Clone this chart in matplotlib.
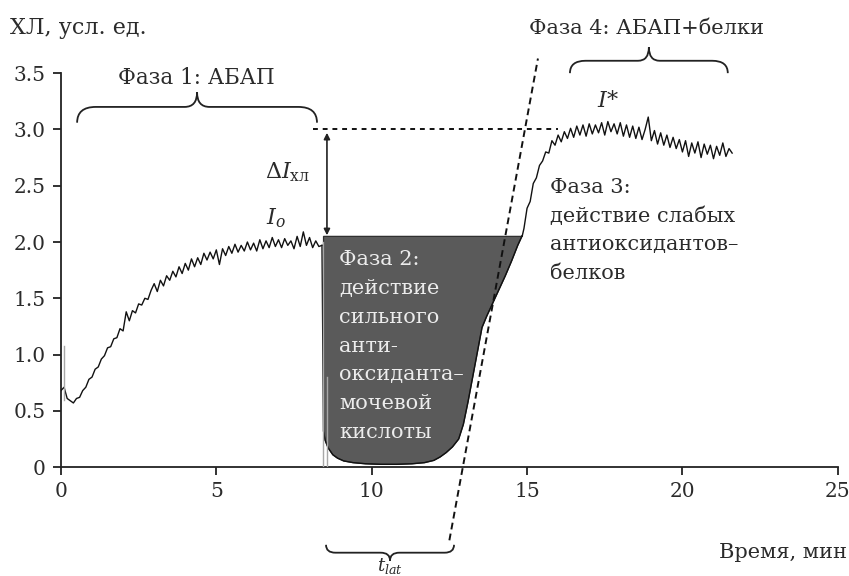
import numpy as np
import matplotlib
matplotlib.use('Agg')
import matplotlib.pyplot as plt
from matplotlib.path import Path
from matplotlib.patches import PathPatch

plt.rcParams['font.family'] = ['DejaVu Serif']
plt.rcParams['mathtext.fontset'] = 'dejavuserif'

# --- данные ---
# фаза 1 (0 ... 8.4 мин, шаг 0.1)
t_phase1 = np.round(np.arange(0, 8.45, 0.1), 2)
y_phase1 = [0.68, 0.71, 0.61, 0.59, 0.57, 0.61, 0.62, 0.68, 0.71, 0.78,
            0.80, 0.87, 0.89, 0.96, 0.99, 1.06, 1.07, 1.14, 1.15, 1.23,
            1.21, 1.38, 1.30, 1.39, 1.37, 1.45, 1.44, 1.50, 1.49, 1.57,
            1.63, 1.56, 1.66, 1.61, 1.70, 1.66, 1.74, 1.69, 1.78, 1.72,
            1.81, 1.75, 1.85, 1.78, 1.86, 1.80, 1.90, 1.84, 1.91, 1.85,
            1.93, 1.80, 1.94, 1.88, 1.96, 1.90, 1.98, 1.91, 1.97, 1.92,
            2.00, 1.93, 1.99, 1.92, 2.02, 1.94, 2.01, 1.95, 2.04, 1.96,
            2.02, 1.95, 2.03, 1.97, 2.01, 1.94, 2.05, 1.96, 2.09, 1.97,
            2.04, 1.95, 2.01, 1.96, 1.97]

# фаза 2 - гашение мочевой кислотой, затем рост (фаза 3)
t_phase2 = [8.45, 8.5, 8.6, 8.75, 8.9, 9.1, 9.4, 9.8, 10.3, 10.8, 11.3,
            11.7, 12.0, 12.2, 12.4, 12.6, 12.8, 12.95, 13.1, 13.25, 13.4,
            13.55, 13.7, 13.9, 14.1, 14.3, 14.5, 14.7, 14.85]
y_phase2 = [0.32, 0.24, 0.17, 0.11, 0.08, 0.055, 0.04, 0.03, 0.025, 0.025,
            0.03, 0.04, 0.06, 0.09, 0.13, 0.18, 0.25, 0.38, 0.58, 0.80,
            1.02, 1.24, 1.34, 1.46, 1.58, 1.70, 1.83, 1.97, 2.06]

# фаза 3-4 (14.9 ... 21.6 мин, шаг 0.1)
t_phase4 = np.round(np.arange(14.9, 21.65, 0.1), 2)
y_phase4 = [2.12, 2.30, 2.36, 2.52, 2.57, 2.68, 2.72, 2.80, 2.79, 2.90,
            2.86, 2.95, 2.89, 2.98, 2.92, 3.01, 2.93, 3.03, 2.95, 3.04,
            2.94, 3.05, 2.96, 3.04, 2.97, 3.06, 2.95, 3.07, 2.98, 3.05,
            2.96, 3.06, 2.94, 3.04, 2.93, 3.03, 2.92, 3.02, 2.91, 3.00,
            3.11, 2.90, 2.99, 2.87, 2.97, 2.86, 2.95, 2.84, 2.93, 2.83,
            2.91, 2.80, 2.90, 2.76, 2.88, 2.79, 2.89, 2.75, 2.87, 2.78,
            2.86, 2.74, 2.85, 2.77, 2.88, 2.76, 2.83, 2.79]

# выбросы (серые линии)
spikes = [(0.1, 0.6, 1.08), (8.42, 0.0, 2.0), (8.56, 0.0, 0.8)]

i0_level = 2.05      # I0
istar_level = 3.0    # I*
tangent_x = [12.5, 15.35]
tangent_y = [-0.65, 3.63]

x_ticks = [0, 5, 10, 15, 20, 25]
y_ticks = [0, 0.5, 1.0, 1.5, 2.0, 2.5, 3.0, 3.5]
y_ticklabels = ['0', '0.5', '1.0', '1.5', '2.0', '2.5', '3.0', '3.5']

TXT = '#2b2b2b'


def brace(ax, x0, x1, y_end, y_flat, y_tip, r_end, r_tip):
    xm = (x0 + x1) / 2
    verts = [(x0, y_end), (x0, y_flat), (x0 + r_end, y_flat),
             (xm - r_tip, y_flat), (xm, y_flat), (xm, y_tip),
             (xm, y_flat), (xm + r_tip, y_flat),
             (x1 - r_end, y_flat), (x1, y_flat), (x1, y_end)]
    codes = [Path.MOVETO, Path.CURVE3, Path.CURVE3,
             Path.LINETO, Path.CURVE3, Path.CURVE3,
             Path.CURVE3, Path.CURVE3,
             Path.LINETO, Path.CURVE3, Path.CURVE3]
    ax.add_patch(PathPatch(Path(verts, codes), fc='none', ec='#222222',
                           lw=1.3, clip_on=False))


fig = plt.figure(figsize=(8.49, 5.76), dpi=100)
ax = fig.add_axes([0.0718, 0.189, 0.915, 0.684])

# заливка фазы 2
fill_x = [t_phase2[0]] + t_phase2 + [t_phase2[-1]]
fill_y = [i0_level] + y_phase2 + [i0_level]
ax.fill(fill_x, fill_y, fc='#5a5a5a', ec='#303030', lw=0.9, zorder=2)

# кривая
ax.plot(t_phase1, y_phase1, color='#111111', lw=1.0, zorder=3)
ax.plot([t_phase1[-1]] + t_phase2 + list(t_phase4),
        [y_phase1[-1]] + y_phase2 + y_phase4, color='#111111', lw=1.0, zorder=3)
for sx, s0, s1 in spikes:
    ax.plot([sx, sx], [s0, s1], color='#a8a8a8', lw=1.0, zorder=4)

# касательная и уровень I*
ax.plot(tangent_x, tangent_y, color='#111111', lw=1.4, ls=(0, (3.5, 2.2)),
        clip_on=False, zorder=5)
ax.plot([8.1, 16.0], [istar_level, istar_level], color='#111111', lw=1.4,
        ls=(0, (2.5, 2.5)), zorder=5)

ax.annotate('', xy=(8.56, i0_level + 0.01), xytext=(8.56, istar_level - 0.03),
            arrowprops=dict(arrowstyle='<|-|>', color='#222222', lw=1.2,
                            mutation_scale=9, shrinkA=0, shrinkB=0))

# фигурные скобки
brace(ax, 0.52, 8.24, 3.06, 3.2, 3.33, 0.6, 0.4)
brace(ax, 16.38, 21.46, 3.5, 3.61, 3.73, 0.5, 0.35)
brace(ax, 8.53, 12.65, -0.69, -0.76, -0.83, 0.3, 0.3)

# подписи
fs = 15
ax.text(4.35, 3.46, 'Фаза 1: АБАП', ha='center', va='center', fontsize=15.5,
        color=TXT)
ax.text(18.85, 3.9, 'Фаза 4: АБАП+белки', ha='center', va='center',
        fontsize=fs, color=TXT, clip_on=False)
ax.text(17.6, 3.25, r'$I$*', ha='center', va='center', fontsize=fs + 1,
        color=TXT)
ax.text(7.3, 2.62, r'$\Delta I_{\mathrm{хл}}$', ha='center', va='center',
        fontsize=fs + 1, color=TXT)
ax.text(6.92, 2.21, r'$I_o$', ha='center', va='center', fontsize=fs + 1,
        color=TXT)
ax.text(10.59, -0.88, r'$t_{lat}$', ha='center', va='center', fontsize=13,
        color=TXT, clip_on=False)
ax.text(8.94, 1.93, 'Фаза 2:\nдействие\nсильного\nанти-\nоксиданта–\nмочевой\nкислоты',
        ha='left', va='top', fontsize=fs, color='#ececec', linespacing=1.66,
        zorder=6)
ax.text(15.73, 2.57, 'Фаза 3:\nдействие слабых\nантиоксидантов–\nбелков',
        ha='left', va='top', fontsize=fs, color=TXT, linespacing=1.62)

fig.text(0.012, 1 - 28 / 576, 'ХЛ, усл. ед.', ha='left', va='center',
         fontsize=16, color=TXT)
fig.text(0.998, 1 - 553 / 576, 'Время, мин', ha='right', va='center',
         fontsize=fs, color=TXT)

# оси
ax.set_xlim(0, 25)
ax.set_ylim(0, 3.5)
ax.set_xticks(x_ticks)
ax.set_yticks(y_ticks)
ax.set_yticklabels(y_ticklabels)
for s in ['top', 'right']:
    ax.spines[s].set_visible(False)
for s in ['left', 'bottom']:
    ax.spines[s].set_linewidth(1.3)
    ax.spines[s].set_color('#222222')
ax.tick_params(direction='out', length=6, width=1.3, labelsize=14.5,
               colors='#222222', labelcolor=TXT, pad=5)

fig.savefig('out.png', dpi=100)
